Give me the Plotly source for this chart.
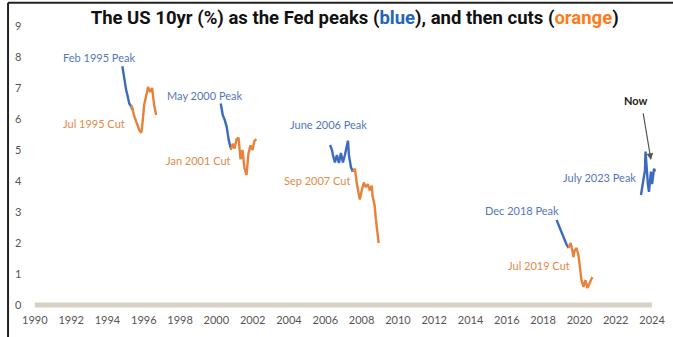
import plotly.graph_objects as go

# ---------------- data (decimal years, US 10yr yield %) ----------------
peak95_x = [1994.82, 1994.87, 1994.93, 1995.04, 1995.09, 1995.20, 1995.31, 1995.37]
peak95_y = [7.70, 7.50, 7.30, 6.90, 6.80, 6.50, 6.40, 6.30]
cut95_x = [1995.31, 1995.37, 1995.47, 1995.58, 1995.75, 1995.86, 1995.91, 1996.02,
           1996.13, 1996.24, 1996.35, 1996.46, 1996.52, 1996.57, 1996.68]
cut95_y = [6.45, 6.35, 6.10, 5.90, 5.65, 5.55, 5.75, 6.45, 6.77, 7.03, 6.87, 7.00,
           6.70, 6.45, 6.13]

peak00_x = [2000.24, 2000.29, 2000.35, 2000.46, 2000.57, 2000.68, 2000.79]
peak00_y = [6.50, 6.30, 6.13, 5.97, 5.74, 5.32, 5.06]
cut00_x = [2000.79, 2000.90, 2001.00, 2001.11, 2001.22, 2001.33, 2001.44, 2001.55,
           2001.66, 2001.77, 2001.88, 2001.99, 2002.10, 2002.21]
cut00_y = [5.00, 5.20, 5.05, 5.35, 5.40, 4.70, 5.00, 4.40, 4.20, 4.90, 5.15, 5.00,
           5.30, 5.35]

peak06_x = [2006.26, 2006.37, 2006.42, 2006.53, 2006.64, 2006.75, 2006.86, 2006.97,
            2007.08, 2007.19, 2007.25, 2007.30, 2007.41, 2007.52]
peak06_y = [5.16, 5.00, 4.84, 4.60, 4.84, 4.58, 4.90, 4.60, 4.84, 5.20, 5.30, 4.84,
            4.45, 4.30]
cut07_x = [2007.52, 2007.63, 2007.74, 2007.85, 2007.90, 2008.01, 2008.12, 2008.23,
           2008.34, 2008.45, 2008.56, 2008.61, 2008.72, 2008.78, 2008.83, 2008.89,
           2008.94]
cut07_y = [4.30, 4.40, 3.90, 3.60, 3.40, 3.70, 3.95, 3.80, 3.90, 3.70, 3.85, 3.50,
           3.20, 2.80, 2.50, 2.20, 2.00]

peak18_x = [2018.74, 2018.80, 2018.91, 2018.96, 2019.07, 2019.13, 2019.24, 2019.29,
            2019.40]
peak18_y = [2.74, 2.65, 2.48, 2.40, 2.26, 2.20, 2.00, 1.95, 1.84]
cut19_x = [2019.40, 2019.51, 2019.56, 2019.67, 2019.73, 2019.84, 2019.95, 2020.06,
           2020.11, 2020.22, 2020.33, 2020.44, 2020.55, 2020.66, 2020.71]
cut19_y = [1.84, 2.00, 1.90, 1.55, 1.75, 1.84, 1.60, 1.13, 0.80, 0.58, 0.80, 0.55,
           0.70, 0.87, 0.90]

peak23_x = [2023.39, 2023.50, 2023.61, 2023.64, 2023.69, 2023.77, 2023.83, 2023.89,
            2023.94, 2024.00, 2024.05, 2024.11, 2024.16]
peak23_y = [3.55, 3.90, 4.35, 4.95, 4.50, 3.90, 3.65, 4.00, 4.30, 3.90, 4.20, 4.40,
            4.30]

x_ticks = list(range(1990, 2025, 2))
y_ticks = list(range(0, 10))

labels = [  # text, x (year), y (value), colour key
    ("Feb 1995 Peak", 1993.56, 8.00, "blue"),
    ("Jul 1995 Cut", 1993.28, 5.87, "orange"),
    ("May 2000 Peak", 1999.36, 6.77, "blue"),
    ("Jan 2001 Cut", 1999.03, 4.65, "orange"),
    ("June 2006 Peak", 2006.15, 5.81, "blue"),
    ("Sep 2007 Cut", 2005.55, 4.03, "orange"),
    ("Dec 2018 Peak", 2016.83, 3.06, "blue"),
    ("Jul 2019 Cut", 2017.76, 1.29, "orange"),
    ("July 2023 Peak", 2021.10, 4.10, "blue"),
]

# ---------------- styling ----------------
BLUE = "#3b6bbf"
ORANGE = "#e8823a"
BLUE_TXT = "#5577b8"
ORANGE_TXT = "#e08a48"

fig = go.Figure()

series = [
    (peak95_x, peak95_y, BLUE), (cut95_x, cut95_y, ORANGE),
    (peak00_x, peak00_y, BLUE), (cut00_x, cut00_y, ORANGE),
    (peak06_x, peak06_y, BLUE), (cut07_x, cut07_y, ORANGE),
    (peak18_x, peak18_y, BLUE), (cut19_x, cut19_y, ORANGE),
    (peak23_x, peak23_y, BLUE),
]
for xs, ys, c in series:
    fig.add_trace(go.Scatter(x=xs, y=ys, mode="lines",
                             line=dict(color=c, width=2.4),
                             hoverinfo="skip", showlegend=False))

# thick beige zero axis
fig.add_shape(type="line", xref="x", yref="y", x0=x_ticks[0], x1=x_ticks[-1],
              y0=0, y1=0, line=dict(color="#d8d2c6", width=5), layer="below")

# frame lines (left and top)
fig.add_shape(type="line", xref="paper", yref="paper", x0=-0.0061, x1=-0.0061,
              y0=-0.09, y1=1.024, line=dict(color="#222222", width=2))
fig.add_shape(type="line", xref="paper", yref="paper", x0=-0.0061, x1=1.02,
              y0=1.024, y1=1.024, line=dict(color="#222222", width=2))

for text, lx, ly, key in labels:
    fig.add_annotation(x=lx, y=ly, text=text, showarrow=False, xref="x", yref="y",
                       font=dict(family="Lato", size=11,
                                 color=BLUE_TXT if key == "blue" else ORANGE_TXT))

fig.add_annotation(x=2023.12, y=6.61, text="<b>Now</b>", showarrow=False,
                   font=dict(family="Lato", size=11, color="#222222"))
fig.add_annotation(x=2023.94, y=4.68, ax=2023.50, ay=6.23, axref="x", ayref="y",
                   text="", showarrow=True, arrowhead=2, arrowsize=1.1,
                   arrowwidth=1.2, arrowcolor="#555555")

fig.update_layout(
    width=673, height=337,
    margin=dict(l=12, r=8, t=10, b=25),
    paper_bgcolor="white", plot_bgcolor="white",
    title=dict(
        text="<b>The US 10yr (%) as the Fed peaks (<span style='color:#1f68b8'>blue</span>), "
             "and then cuts (<span style='color:#ff7a1a'>orange</span>)</b>",
        x=0.527, xanchor="center", y=0.947, yanchor="middle",
        font=dict(family="Roboto", size=18.5, color="#111111")),
    xaxis=dict(range=[1988.741, 2024.493], tickmode="array", tickvals=x_ticks,
               ticktext=[str(v) for v in x_ticks], showgrid=False, zeroline=False,
               showline=False, ticks="", tickfont=dict(family="Lato", size=11, color="#555555")),
    yaxis=dict(range=[-0.226, 9.516], tickmode="array", tickvals=y_ticks,
               ticktext=[str(v) for v in y_ticks], showgrid=False, zeroline=False,
               showline=False, ticks="", ticklabelposition="inside",
               tickfont=dict(family="Lato", size=11, color="#555555")),
)

fig.write_html("out.html", config={"displayModeBar": False},
               post_script="document.body.style.margin='0';")
